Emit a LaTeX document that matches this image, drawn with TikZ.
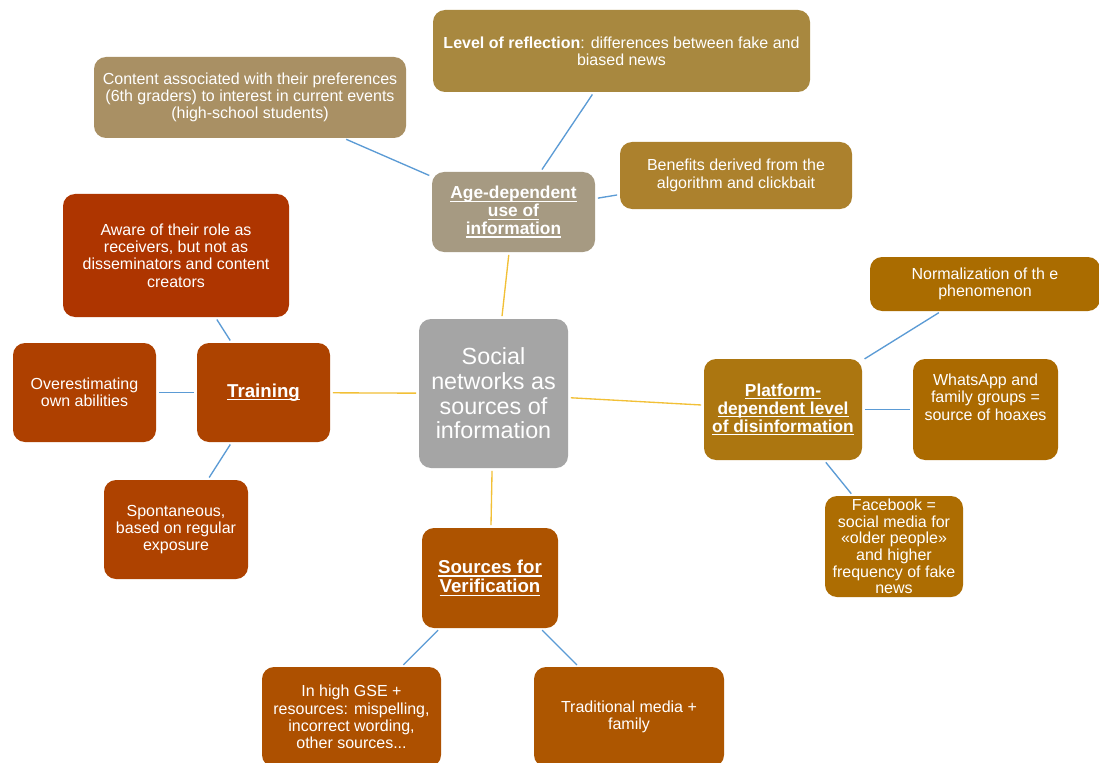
\documentclass[tikz,border=0pt]{standalone}
\usepackage{fontspec}
\setmainfont{Liberation Sans}
\newcommand\ulx[1]{\setbox0\hbox{#1}\leavevmode\rlap{\rule[-2.2pt]{\wd0}{0.9pt}}\box0}
\definecolor{cLvl}{HTML}{A8883F}
\definecolor{cCont}{HTML}{A99064}
\definecolor{cAge}{HTML}{A69A82}
\definecolor{cBen}{HTML}{AC812D}
\definecolor{cAware}{HTML}{AE3500}
\definecolor{cOver}{HTML}{AE4000}
\definecolor{cTrain}{HTML}{AD4300}
\definecolor{cSpont}{HTML}{AE4200}
\definecolor{cSoc}{HTML}{A5A5A5}
\definecolor{cSrc}{HTML}{AD5300}
\definecolor{cGse}{HTML}{AD5000}
\definecolor{cTrad}{HTML}{AD5600}
\definecolor{cPlat}{HTML}{AC7610}
\definecolor{cNorm}{HTML}{AA6C00}
\definecolor{cWa}{HTML}{AB6A00}
\definecolor{cFb}{HTML}{AD6D02}
\definecolor{lineY}{HTML}{F2C036}
\definecolor{lineB}{HTML}{5B9BD5}
\begin{document}
\begin{tikzpicture}[x=0.75pt,y=-0.75pt,
  box/.style={rounded corners=9pt, fill=#1, text=white, align=center, inner sep=0pt,
    font=\fontsize{12}{13}\selectfont},
  sz/.style 2 args={minimum width=#1*0.75pt, minimum height=#2*0.75pt},
  ttl/.style={font=\fontsize{13}{13.4}\selectfont\bfseries},
  bigttl/.style={font=\fontsize{14}{14.5}\selectfont\bfseries},
  txt/.style={text=white, align=center, inner sep=0pt, font=\fontsize{12}{13}\selectfont},
  yel/.style={draw=lineY, line width=1pt, shorten >=2pt, shorten <=2pt},
  blu/.style={draw=lineB, line width=1pt, shorten >=2pt, shorten <=2pt}]
\useasboundingbox (0,0) rectangle (1099,763);
\clip (0,0) rectangle (1099,763);
\fill[white] (0,0) rectangle (1099,763);

% center
\node[box=cSoc, sz={149}{149}, font=\fontsize{17.5}{18.5}\selectfont] (soc) at (493.5,393.5)
  {Social\\networks as\\sources of\\information};

% age branch
\node[box=cAge, sz={163}{80}, ttl] (age) at (513.5,212)
  {\ulx{Age-dependent}\\\ulx{use of}\\\ulx{information}};
\node[box=cLvl, sz={377}{82}] (lvl) at (621.5,51)
  {\textbf{Level of reflection}: differences between fake and\\biased news};
\node[box=cCont, sz={312}{81}] (cont) at (250,97.5)
  {Content associated with their preferences\\(6th graders) to interest in current events\\(high-school students)};
\node[box=cBen, sz={232}{67}] (ben) at (736,175.5)
  {Benefits derived from the\\algorithm and clickbait};

% training branch
\node[box=cTrain, sz={133}{99}, bigttl] (train) at (263.5,392.5) {\ulx{Training}};
\node[box=cAware, sz={226}{123}] (aware) at (176,255.5)
  {Aware of their role as\\receivers, but not as\\disseminators and content\\creators};
\node[box=cOver, sz={143}{99}] (over) at (84.5,392.5) {Overestimating\\own abilities};
\node[box=cSpont, sz={144}{99}] (spont) at (176,529.5)
  {Spontaneous,\\based on regular\\exposure};

% sources branch
\node[box=cSrc, sz={136}{100}, bigttl] (src) at (490,578)
  {\ulx{Sources for}\\\ulx{Verification}};
\node[box=cGse, sz={179}{100}] (gse) at (351.5,717)
  {In high GSE +\\resources: mispelling,\\incorrect wording,\\other sources...};
\node[box=cTrad, sz={190}{100}] (trad) at (629,717) {Traditional media +\\family};

% platform branch
\node[box=cPlat, sz={158}{101}, ttl] (plat) at (783,409.5)
  {\ulx{Platform-}\\\ulx{dependent level}\\\ulx{of disinformation}};
\node[box=cNorm, sz={230}{54}] (norm) at (985,284) {Normalization of th e\\phenomenon};
\node[box=cWa, sz={145}{101}] (wa) at (985.5,409.5) {};
\node[txt] (watxt) at (985.5,397) {WhatsApp and\\family groups =\\source of hoaxes};
\node[box=cFb, sz={138}{101}, font=\fontsize{12}{12.5}\selectfont] (fb) at (894,546.5)
  {Facebook =\\social media for\\«older people»\\and higher\\frequency of fake\\news};

% connectors
\draw[yel] (soc) -- (age);
\draw[yel] (soc) -- (train);
\draw[yel] (soc) -- (src);
\draw[yel] (soc) -- (plat);
\draw[blu] (age) -- (cont);
\draw[blu] (age) -- (lvl);
\draw[blu] (age) -- (ben);
\draw[blu] (train) -- (aware);
\draw[blu] (train) -- (over);
\draw[blu] (train) -- (spont);
\draw[blu] (src) -- (gse);
\draw[blu] (src) -- (trad);
\draw[blu] (plat) -- (norm);
\draw[blu] (plat) -- (wa);
\draw[blu] (plat) -- (fb);
\end{tikzpicture}
\end{document}
